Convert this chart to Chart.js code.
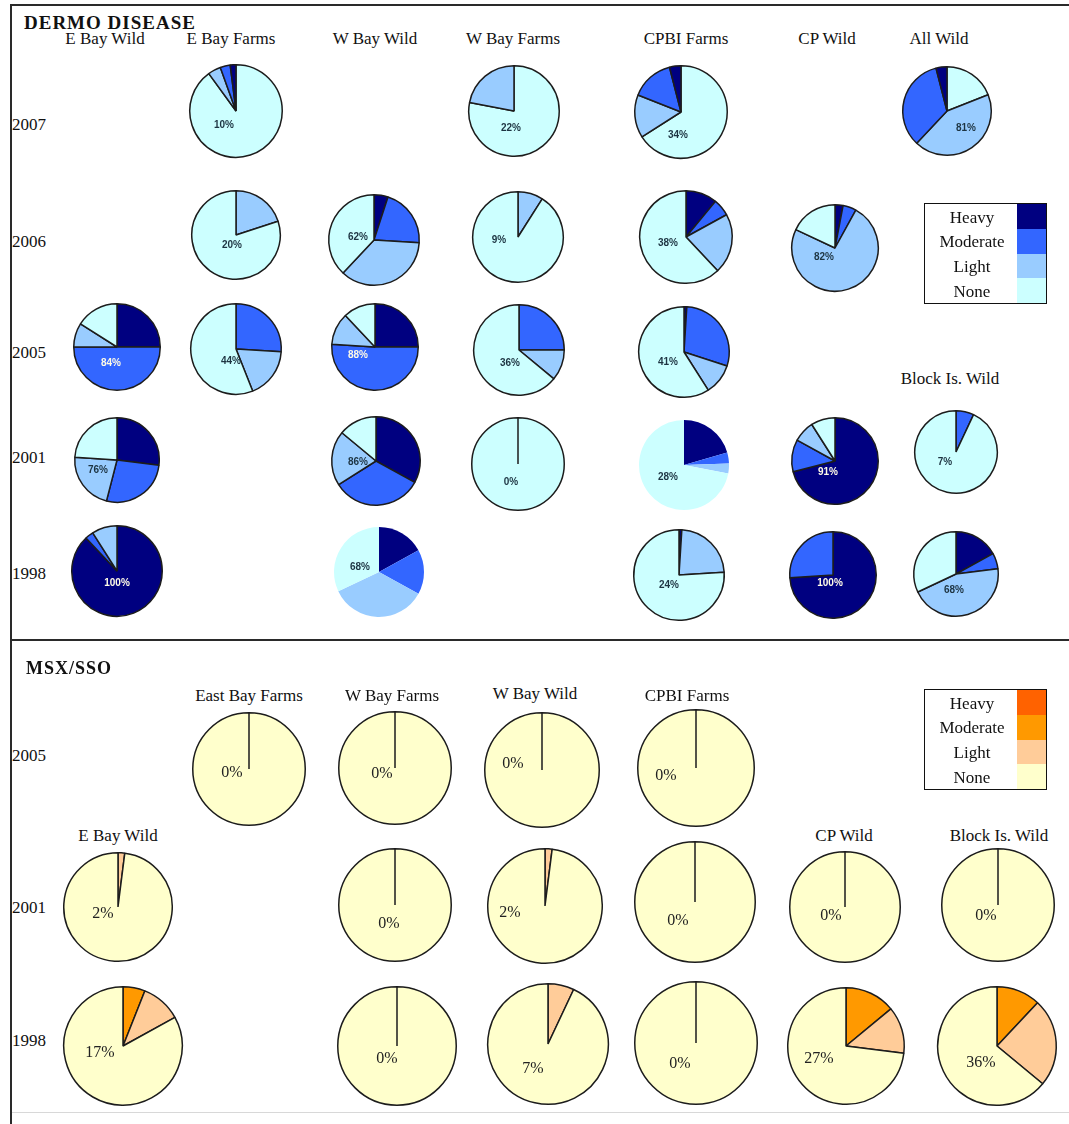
<!DOCTYPE html>
<html><head><meta charset="utf-8">
<script src="https://cdn.jsdelivr.net/npm/chart.js@4.4.0/dist/chart.umd.min.js"></script>
<style>
html,body{margin:0;padding:0;background:#fff;}
#page{position:relative;width:1069px;height:1124px;overflow:hidden;font-family:"Liberation Serif","Times New Roman",serif;color:#111;}
.t{position:absolute;white-space:nowrap;transform:translate(-50%,-50%);line-height:1;}
.tl{position:absolute;white-space:nowrap;transform:translate(0,-50%);line-height:1;}
.pie{position:absolute;}
.line{position:absolute;}
</style></head><body><div id="page"></div>
<script>
// ---------- DATA ----------
const categories = ["Heavy", "Moderate", "Light", "None"];

// DERMO DISEASE
const dermoYears = ["2007", "2006", "2005", "2001", "1998"];
const dermoSites = ["E Bay Wild", "E Bay Farms", "W Bay Wild", "W Bay Farms", "CPBI Farms", "CP Wild", "All Wild"];
const dermoPieYear = ["2007","2007","2007","2007",
                      "2006","2006","2006","2006","2006",
                      "2005","2005","2005","2005","2005",
                      "2001","2001","2001","2001","2001","2001",
                      "1998","1998","1998","1998","1998"];
const dermoPieSite = ["E Bay Farms","W Bay Farms","CPBI Farms","All Wild",
                      "E Bay Farms","W Bay Wild","W Bay Farms","CPBI Farms","CP Wild",
                      "E Bay Wild","E Bay Farms","W Bay Wild","W Bay Farms","CPBI Farms",
                      "E Bay Wild","W Bay Wild","W Bay Farms","CPBI Farms","CP Wild","Block Is. Wild",
                      "E Bay Wild","W Bay Wild","CPBI Farms","CP Wild","Block Is. Wild"];
const dermoHeavy    = [2, 0, 4, 4,   0, 5, 0, 11, 3,   25, 0, 25, 0, 1,   27, 33, 0, 20.5, 71, 0,   88, 17, 1, 74, 17];
const dermoModerate = [3.5, 0, 15, 34,   0, 21, 0, 6, 5,   50, 26, 51, 25, 29,   27, 33, 0, 4, 12, 7,   3, 16, 0, 26, 6];
const dermoLight    = [4.5, 22, 15, 43,   20, 36, 9, 21, 74,   9, 18, 12, 11, 11,   22, 20, 0, 3.5, 8, 0,   9, 35, 23, 0, 45];
const dermoNone     = [90, 78, 66, 19,   80, 38, 91, 62, 18,   16, 56, 12, 64, 59,   24, 14, 100, 72, 9, 93,   0, 32, 76, 0, 32];
const dermoPrevalence = ["10%","22%","34%","81%",
                         "20%","62%","9%","38%","82%",
                         "84%","44%","88%","36%","41%",
                         "76%","86%","0%","28%","91%","7%",
                         "100%","68%","24%","100%","68%"];

// MSX/SSO
const msxYears = ["2005", "2001", "1998"];
const msxPieYear = ["2005","2005","2005","2005",
                    "2001","2001","2001","2001","2001","2001",
                    "1998","1998","1998","1998","1998","1998"];
const msxPieSite = ["East Bay Farms","W Bay Farms","W Bay Wild","CPBI Farms",
                    "E Bay Wild","W Bay Farms","W Bay Wild","CPBI Farms","CP Wild","Block Is. Wild",
                    "E Bay Wild","W Bay Farms","W Bay Wild","CPBI Farms","CP Wild","Block Is. Wild"];
const msxHeavy    = [0,0,0,0,   0,0,0,0,0,0,   0,0,0,0,0,0];
const msxModerate = [0,0,0,0,   0,0,0,0,0,0,   6,0,0,0,14,12];
const msxLight    = [0,0,0,0,   2,0,2,0,0,0,   11,0,7,0,13,24];
const msxNone     = [100,100,100,100,   98,100,98,100,100,100,   83,100,93,100,73,64];
const msxPrevalence = ["0%","0%","0%","0%",
                       "2%","0%","2%","0%","0%","0%",
                       "17%","0%","7%","0%","27%","36%"];

// ---------- STYLE / LAYOUT ----------
const dermoColors = ["#000080", "#3366FF", "#99CCFF", "#CCFFFF"];
const msxColors   = ["#FF6200", "#FF9900", "#FFCC99", "#FFFFCC"];

// [cx, cy, r, labelX, labelY, noneFirst, outlined, whiteLabel]
const dermoLayout = [
  [236,111,46, 224,125, 1,1,0], [514,111,45, 511,128, 1,1,0], [681,112,46, 678,135, 1,1,0], [947,111,44, 966,128, 1,1,0],
  [236,235,44, 232,245, 0,1,0], [374,240,45, 358,237, 0,1,0], [518,237,45, 499,240, 0,1,0], [686,237,46, 668,243, 0,1,0], [835,248,43, 824,257, 0,1,0],
  [117,347,43, 111,363, 0,1,1], [236,349,45, 231,361, 0,1,0], [375,347,43, 358,355, 0,1,1], [519,350,45, 510,363, 0,1,0], [684,352,45, 668,362, 0,1,0],
  [117,460,42, 98,470, 0,1,0], [376,461,44, 358,462, 0,1,0], [518,464,46, 511,482, 0,1,0], [684,465,44, 668,477, 0,0,0], [835,461,43, 828,472, 0,1,1], [956,452,41, 945,462, 0,1,0],
  [117,571,45, 117,583, 0,1,1], [379,572,44, 360,567, 0,0,0], [679,575,45, 669,585, 0,1,0], [833,575,43, 830,583, 0,1,1], [956,574,42, 954,590, 0,1,0]
];
const msxLayout = [
  [249,769,56, 232,772], [395,768,56, 382,773], [542,770,57, 513,763], [696,768,58, 666,775],
  [118,907,54, 103,913], [395,905,56, 389,923], [545,906,57, 510,912], [695,902,60, 678,920], [845,907,55, 831,915], [998,905,56, 986,915],
  [123,1046,59, 100,1052], [397,1046,59, 387,1058], [548,1044,60, 533,1068], [696,1043,61, 680,1063], [846,1046,58, 819,1058], [997,1046,59, 981,1062]
];
const dermoHeaderX = [105, 231, 375, 513, 686, 827, 939];
const dermoYearY = [124, 241, 352, 457, 573];
const msxHeaders = [["East Bay Farms",249,695],["W Bay Farms",392,695],["W Bay Wild",535,693],["CPBI Farms",687,695],
                    ["E Bay Wild",118,835],["CP Wild",844,835],["Block Is. Wild",999,835]];
const msxYearY = [755, 907, 1040];

const page = document.getElementById('page');

function addText(txt, x, y, css, cls) {
  const d = document.createElement('div');
  d.className = cls || 't';
  d.textContent = txt;
  d.style.left = x + 'px'; d.style.top = y + 'px';
  if (css) d.style.cssText += css;
  page.appendChild(d);
  return d;
}
function addLine(x, y, w, h, color) {
  const d = document.createElement('div');
  d.className = 'line';
  d.style.cssText += `left:${x}px;top:${y}px;width:${w}px;height:${h}px;background:${color};`;
  page.appendChild(d);
}
function makePie(x, y, r, values, colors, noneFirst, outlined) {
  const pad = 3, R = r + pad;
  const div = document.createElement('div');
  div.className = 'pie';
  div.style.cssText += `left:${x - R}px;top:${y - R}px;width:${2 * R}px;height:${2 * R}px;`;
  const c = document.createElement('canvas');
  c.width = c.height = 2 * R;
  c.style.width = c.style.height = (2 * R) + 'px';
  div.appendChild(c);
  page.appendChild(div);
  let labels = categories.slice(), data = values.slice(), bg = colors.slice();
  if (noneFirst) { labels.reverse(); data.reverse(); bg.reverse(); }
  new Chart(c, {
    type: 'pie',
    data: { labels: labels, datasets: [{ data: data, backgroundColor: bg,
      borderColor: outlined ? '#1c1c1c' : 'rgba(0,0,0,0)', borderWidth: outlined ? 1.5 : 0 }] },
    options: { responsive: false, animation: false, events: [],
      layout: { padding: pad - 1 },
      plugins: { legend: { display: false }, tooltip: { enabled: false } } }
  });
}

// frame lines
addLine(10, 4, 1059, 2, '#2a2a2a');
addLine(10, 4, 2, 1120, '#2a2a2a');
addLine(10, 639, 1059, 2, '#2a2a2a');
addLine(12, 1112, 1057, 1, '#d8d8d8');

// DERMO section text
addText('DERMO DISEASE', 24, 22, 'font-weight:bold;font-size:19px;letter-spacing:1px;', 'tl');
dermoSites.forEach((s, i) => addText(s, dermoHeaderX[i], 38, 'font-size:17px;'));
addText('Block Is. Wild', 950, 378, 'font-size:17px;');
dermoYears.forEach((yv, i) => addText(yv, 12, dermoYearY[i], 'font-size:17px;', 'tl'));

for (let i = 0; i < dermoHeavy.length; i++) {
  const L = dermoLayout[i];
  makePie(L[0], L[1], L[2], [dermoHeavy[i], dermoModerate[i], dermoLight[i], dermoNone[i]], dermoColors, L[5], L[6]);
  addText(dermoPrevalence[i], L[3], L[4],
    `font-family:"Liberation Sans",Arial,sans-serif;font-weight:bold;font-size:10px;color:${L[7] ? '#fffbe6' : '#1d3442'};`);
}

// MSX section text
addText('MSX/SSO', 26, 668, 'font-weight:bold;font-size:18px;letter-spacing:1px;', 'tl');
msxHeaders.forEach(h => addText(h[0], h[1], h[2], 'font-size:17px;'));
msxYears.forEach((yv, i) => addText(yv, 12, msxYearY[i], 'font-size:17px;', 'tl'));

for (let i = 0; i < msxNone.length; i++) {
  const L = msxLayout[i];
  makePie(L[0], L[1], L[2], [msxHeavy[i], msxModerate[i], msxLight[i], msxNone[i]], msxColors, 0, 1);
  addText(msxPrevalence[i], L[3], L[4], 'font-size:16px;color:#222;');
}

// Legends
function legend(top, colors) {
  const box = document.createElement('div');
  box.style.cssText = `position:absolute;left:924px;top:${top}px;width:121px;height:99px;border:1.5px solid #111;background:#fff;`;
  page.appendChild(box);
  categories.forEach((cat, i) => {
    const sw = document.createElement('div');
    sw.style.cssText = `position:absolute;left:92px;top:${i * 24.75}px;width:29px;height:24.75px;background:${colors[i]};`;
    box.appendChild(sw);
    const t = document.createElement('div');
    t.textContent = cat;
    t.style.cssText = `position:absolute;left:47px;top:${i * 24.75 + 12.5}px;transform:translate(-50%,-50%);font-size:17px;white-space:nowrap;line-height:1;`;
    box.appendChild(t);
  });
}
legend(203, dermoColors);
legend(689, msxColors);
</script></body></html>
